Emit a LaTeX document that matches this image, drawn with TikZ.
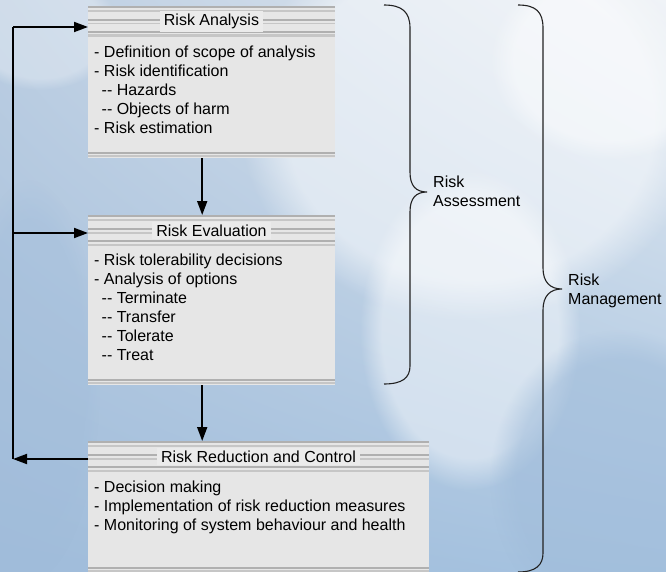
\documentclass[tikz,border=0pt]{standalone}
\usepackage{fontspec}
\setmainfont{Liberation Sans}
\usetikzlibrary{arrows.meta,fadings,shadings}
\newcommand\dd{\hbox{-}\hbox{-}}
\newcommand\fs{\fontsize{16}{19}\selectfont}
\definecolor{bodyg}{HTML}{E6E6E6}
\definecolor{bandg}{HTML}{B0B0B0}
\definecolor{bandl}{HTML}{C6C6C6}
\definecolor{ttlg}{HTML}{EBEBEB}
\definecolor{bracec}{HTML}{222222}
\definecolor{skyA}{RGB}{188,206,226}
\definecolor{skyB}{RGB}{228,234,241}
\definecolor{skyC}{RGB}{160,188,218}
\definecolor{skyD}{RGB}{166,195,224}
\newcommand\hbands[3]{%
  \foreach \ya/\yb/\cc in {0/2/bandg,4/6/bandl,13/15/bandg,17/18.5/bandl,25/27/bandg,28.5/31/bandl}
    {\fill[\cc] (#1,#3+\ya) rectangle (#2,#3+\yb);}}
\newcommand\bbands[3]{%
  \fill[bandg] (#1,#3-6) rectangle (#2,#3-4);
  \fill[bandl] (#1,#3-3) rectangle (#2,#3-1);}
\tikzset{
  boxbody/.style={fill=bodyg, draw=none, inner sep=0pt, anchor=north west},
  ttl/.style={fill=ttlg, draw=none, inner xsep=4pt, inner ysep=3pt, font=\fs},
  item/.style={anchor=base west, font=\fs, inner sep=0pt},
  lbl/.style={anchor=west, align=left, font=\fs, inner sep=0pt},
  arr/.style={line width=1.8pt, -{Triangle[length=14pt,width=10pt]}},
  brace/.style={draw=bracec, line width=1.1pt},
}
\begin{document}
\begin{tikzpicture}[x=1pt,y=-1pt]
% background
\shade[upper left=skyA, upper right=skyB, lower left=skyC, lower right=skyD]
  (0,0) rectangle (666,572);
\useasboundingbox (0,0) rectangle (666,572);
\fill[white, opacity=0.5, path fading=circle with fuzzy edge 20 percent] (470,120) ellipse (230 and 200);
\fill[white, opacity=0.45, path fading=circle with fuzzy edge 20 percent] (470,330) ellipse (110 and 160);
\fill[white, opacity=0.45, path fading=circle with fuzzy edge 20 percent] (610,60) ellipse (120 and 100);
\fill[white, opacity=0.3, path fading=circle with fuzzy edge 20 percent] (40,30) ellipse (80 and 60);
\fill[skyC, opacity=0.55, path fading=circle with fuzzy edge 20 percent] (620,480) ellipse (130 and 150);
\fill[skyC, opacity=0.35, path fading=circle with fuzzy edge 20 percent] (30,380) ellipse (70 and 200);

% boxes
\node[boxbody, minimum width=247, minimum height=152] (b1) at (88,6) {};
\node[boxbody, minimum width=247, minimum height=170] (b2) at (88,215) {};
\node[boxbody, minimum width=341, minimum height=132] (b3) at (88,441) {};
\hbands{88}{335}{6}
\hbands{88}{335}{215}
\hbands{88}{429}{441}
\bbands{88}{335}{158}
\bbands{88}{335}{385}
\bbands{88}{429}{573}

% titles
\node[ttl] (t1) at (211.5,21.5) {Risk Analysis};
\node[ttl] (t2) at (211.5,230.5) {Risk Evaluation};
\node[ttl] (t3) at (258.5,456.5) {Risk Reduction and Control};

% items
\node[item] (a1) at (94,57.5) {- Definition of scope of analysis};
\node[item] (a2) at (94,76.5) {- Risk identification};
\node[item] (a3) at (94,95.5) {\hspace*{7.5pt}\dd{} Hazards};
\node[item] (a4) at (94,114.5) {\hspace*{7.5pt}\dd{} Objects of harm};
\node[item] (a5) at (94,133.5) {- Risk estimation};

\node[item] (e1) at (94,265.5) {- Risk tolerability decisions};
\node[item] (e2) at (94,284.5) {- Analysis of options};
\node[item] (e3) at (94,303.5) {\hspace*{7.5pt}\dd{} Terminate};
\node[item] (e4) at (94,322.5) {\hspace*{7.5pt}\dd{} Transfer};
\node[item] (e5) at (94,341.5) {\hspace*{7.5pt}\dd{} Tolerate};
\node[item] (e6) at (94,360.5) {\hspace*{7.5pt}\dd{} Treat};

\node[item] (r1) at (94,492.5) {- Decision making};
\node[item] (r2) at (94,511.5) {- Implementation of risk reduction measures};
\node[item] (r3) at (94,530.5) {- Monitoring of system behaviour and health};

% connectors
\draw[arr] ([xshift=-9.5pt]b1.south) -- ([xshift=-9.5pt]b2.north);
\draw[arr] ([xshift=-9.5pt]b2.south) -- ([xshift=-56.5pt]b3.north);
\coordinate (fb) at (13,459);
\coordinate (in1) at ([yshift=-21pt]b1.north west);
\coordinate (in2) at ([yshift=-18pt]b2.north west);
\draw[arr] ([yshift=-18pt]b3.north west) -- (fb);
\draw[line width=1.8pt] (fb) -- (fb |- in1);
\draw[arr] (fb |- in1) -- (in1);
\draw[arr] (fb |- in2) -- (in2);

% braces
\draw[brace] (384,5) .. controls (402,5) and (410,12) .. (410,28)
  -- (410,172) .. controls (410,186) and (416,192) .. (427,192)
  .. controls (416,192) and (410,198) .. (410,212)
  -- (410,366) .. controls (410,378) and (402,384) .. (384,384);
\draw[brace] (518,5) .. controls (536,5) and (543,12) .. (543,28)
  -- (543,268) .. controls (543,282) and (550,289) .. (562,289)
  .. controls (550,289) and (543,296) .. (543,310)
  -- (543,553) .. controls (543,565) and (536,572) .. (518,572);
\node[lbl] (ra) at (433,191.5) {Risk\\Assessment};
\node[lbl] (rm) at (568,291) {Risk\\Management};
\end{tikzpicture}
\end{document}
